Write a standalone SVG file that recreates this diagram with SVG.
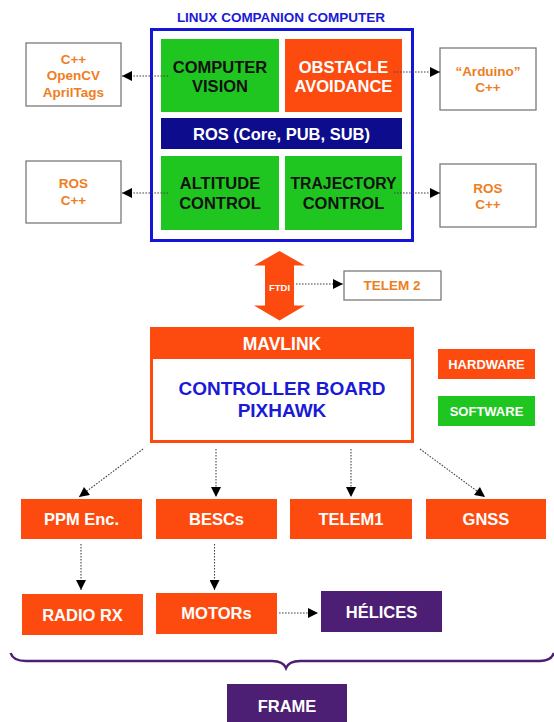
<svg xmlns="http://www.w3.org/2000/svg" width="554" height="722" viewBox="0 0 554 722">
<style>
text{font-family:"Liberation Sans",Arial,sans-serif;font-weight:700;text-anchor:middle}
.w{fill:#ffffff}.k{fill:#111111}.o{fill:#ee7e22}.b{fill:#1a1ad6}
.hw{fill:#fd4b10}.sw{fill:#20c620}.pu{fill:#4c1f74}
.ob{fill:#ffffff;stroke:#7a7a7a;stroke-width:1.3}
.dl{fill:none;stroke:#444;stroke-width:1.1;stroke-dasharray:1.6 1.4}
</style>
<defs>
<marker id="ah" viewBox="0 0 10 10" refX="10" refY="5" markerWidth="11" markerHeight="10" markerUnits="userSpaceOnUse" orient="auto">
<path d="M0,0 L10,5 L0,10 Z" fill="#000"/>
</marker>
</defs>

<g id="companion">
<text x="281" y="22" font-size="13.5" class="b">LINUX COMPANION COMPUTER</text>
<rect x="151.5" y="29.5" width="261" height="211" fill="#fff" stroke="#1515d8" stroke-width="3"/>
</g>
<g id="cv">
<rect x="161" y="39" width="118" height="73" class="sw"/>
<text x="220" y="73" font-size="16.5" class="k">COMPUTER</text>
<text x="220" y="92" font-size="16.5" class="k">VISION</text>
</g>
<g id="obstacle">
<rect x="285" y="39" width="117" height="73" class="hw"/>
<text x="343.5" y="73" font-size="16.5" class="w">OBSTACLE</text>
<text x="343.5" y="92" font-size="16.5" class="w">AVOIDANCE</text>
</g>
<g id="ros">
<rect x="161" y="118" width="241" height="31" fill="#0c0c8c"/>
<text x="281.5" y="139.5" font-size="16.5" class="w">ROS (Core, PUB, SUB)</text>
</g>
<g id="altitude">
<rect x="161" y="156" width="118" height="74" class="sw"/>
<text x="220" y="189" font-size="16.5" class="k">ALTITUDE</text>
<text x="220" y="209" font-size="16.5" class="k">CONTROL</text>
</g>
<g id="trajectory">
<rect x="285" y="156" width="117" height="74" class="sw"/>
<text x="343.5" y="189" font-size="15.8" class="k">TRAJECTORY</text>
<text x="343.5" y="209" font-size="16.5" class="k">CONTROL</text>
</g>

<g id="lib-cv">
<rect x="26" y="43" width="95" height="63" class="ob"/>
<text x="73.5" y="64" font-size="13.5" class="o">C++</text>
<text x="73.5" y="80" font-size="13.5" class="o">OpenCV</text>
<text x="73.5" y="96.5" font-size="13.5" class="o">AprilTags</text>
</g>
<g id="lib-alt">
<rect x="26" y="161" width="95" height="62" class="ob"/>
<text x="73.5" y="188" font-size="13.5" class="o">ROS</text>
<text x="73.5" y="205" font-size="13.5" class="o">C++</text>
</g>
<g id="lib-obs">
<rect x="440" y="48" width="96" height="62" class="ob"/>
<text x="488" y="76" font-size="13.5" class="o">“Arduino”</text>
<text x="488" y="92" font-size="13.5" class="o">C++</text>
</g>
<g id="lib-traj">
<rect x="440" y="164" width="96" height="63" class="ob"/>
<text x="488" y="193" font-size="13.5" class="o">ROS</text>
<text x="488" y="209" font-size="13.5" class="o">C++</text>
</g>

<g id="ftdi">
<path d="M279.5,251 L305,265.5 L294,265.5 L294,305.5 L305,305.5 L279.5,320.5 L254,305.5 L265,305.5 L265,265.5 L254,265.5 Z" class="hw"/>
<text x="279.5" y="290.5" font-size="9.5" class="w">FTDI</text>
</g>
<g id="telem2">
<rect x="344" y="271" width="97" height="29" class="ob"/>
<text x="392" y="290" font-size="13.5" class="o">TELEM 2</text>
</g>

<g id="pixhawk">
<rect x="151.5" y="328.5" width="261" height="113" fill="#fff" stroke="#fd4b10" stroke-width="3"/>
<rect x="150" y="327" width="264" height="32" class="hw"/>
<text x="282" y="350" font-size="17.5" class="w">MAVLINK</text>
<text x="282" y="395" font-size="19" class="b">CONTROLLER BOARD</text>
<text x="282" y="417" font-size="19" class="b">PIXHAWK</text>
</g>

<g id="legend-hw">
<rect x="438" y="349" width="97" height="30" class="hw"/>
<text x="486.5" y="368.5" font-size="13" class="w">HARDWARE</text>
</g>
<g id="legend-sw">
<rect x="438" y="396" width="97" height="30" class="sw"/>
<text x="486.5" y="415.5" font-size="13" class="w">SOFTWARE</text>
</g>

<g id="ppm">
<rect x="21" y="499" width="121" height="40" class="hw"/>
<text x="81.5" y="525" font-size="16.5" class="w">PPM Enc.</text>
</g>
<g id="bescs">
<rect x="156" y="499" width="121" height="40" class="hw"/>
<text x="216.5" y="525" font-size="16.5" class="w">BESCs</text>
</g>
<g id="telem1">
<rect x="290" y="499" width="122" height="40" class="hw"/>
<text x="351" y="525" font-size="16.5" class="w">TELEM1</text>
</g>
<g id="gnss">
<rect x="426" y="499" width="120" height="40" class="hw"/>
<text x="486" y="525" font-size="16.5" class="w">GNSS</text>
</g>
<g id="radio">
<rect x="22" y="594" width="121" height="41" class="hw"/>
<text x="82.5" y="620.5" font-size="16.5" class="w">RADIO RX</text>
</g>
<g id="motors">
<rect x="156" y="593" width="121" height="41" class="hw"/>
<text x="216.5" y="619" font-size="16.5" class="w">MOTORs</text>
</g>
<g id="helices">
<rect x="321" y="591" width="121" height="41" class="pu"/>
<text x="381.5" y="617.5" font-size="16.5" class="w">HÉLICES</text>
</g>
<g id="frame">
<path d="M10.6,653 Q13,661 26,661 L272,661 Q283,661 286,668 Q289,661 300,661 L540,661 Q551,661 554,653" fill="none" stroke="#4c1f74" stroke-width="2.5"/>
<rect x="227" y="684" width="120" height="38" class="pu"/>
<text x="287" y="711.5" font-size="16.5" class="w">FRAME</text>
</g>

<g id="connectors">
<line x1="168" y1="76" x2="122" y2="76" class="dl" marker-end="url(#ah)"/>
<line x1="168" y1="193" x2="122" y2="193" class="dl" marker-end="url(#ah)"/>
<line x1="394" y1="72" x2="440" y2="72" class="dl" marker-end="url(#ah)"/>
<line x1="394" y1="193" x2="440" y2="193" class="dl" marker-end="url(#ah)"/>
<line x1="296" y1="284" x2="343" y2="284" class="dl" marker-end="url(#ah)"/>
<line x1="143" y1="449" x2="79" y2="497" class="dl" marker-end="url(#ah)"/>
<line x1="216" y1="449" x2="216" y2="497" class="dl" marker-end="url(#ah)"/>
<line x1="351" y1="449" x2="351" y2="497" class="dl" marker-end="url(#ah)"/>
<line x1="420" y1="449" x2="485" y2="497" class="dl" marker-end="url(#ah)"/>
<line x1="81" y1="544" x2="81" y2="590" class="dl" marker-end="url(#ah)"/>
<line x1="214.5" y1="544" x2="214.5" y2="590" class="dl" marker-end="url(#ah)"/>
<line x1="279" y1="613" x2="318" y2="613" class="dl" marker-end="url(#ah)"/>
</g>
</svg>
